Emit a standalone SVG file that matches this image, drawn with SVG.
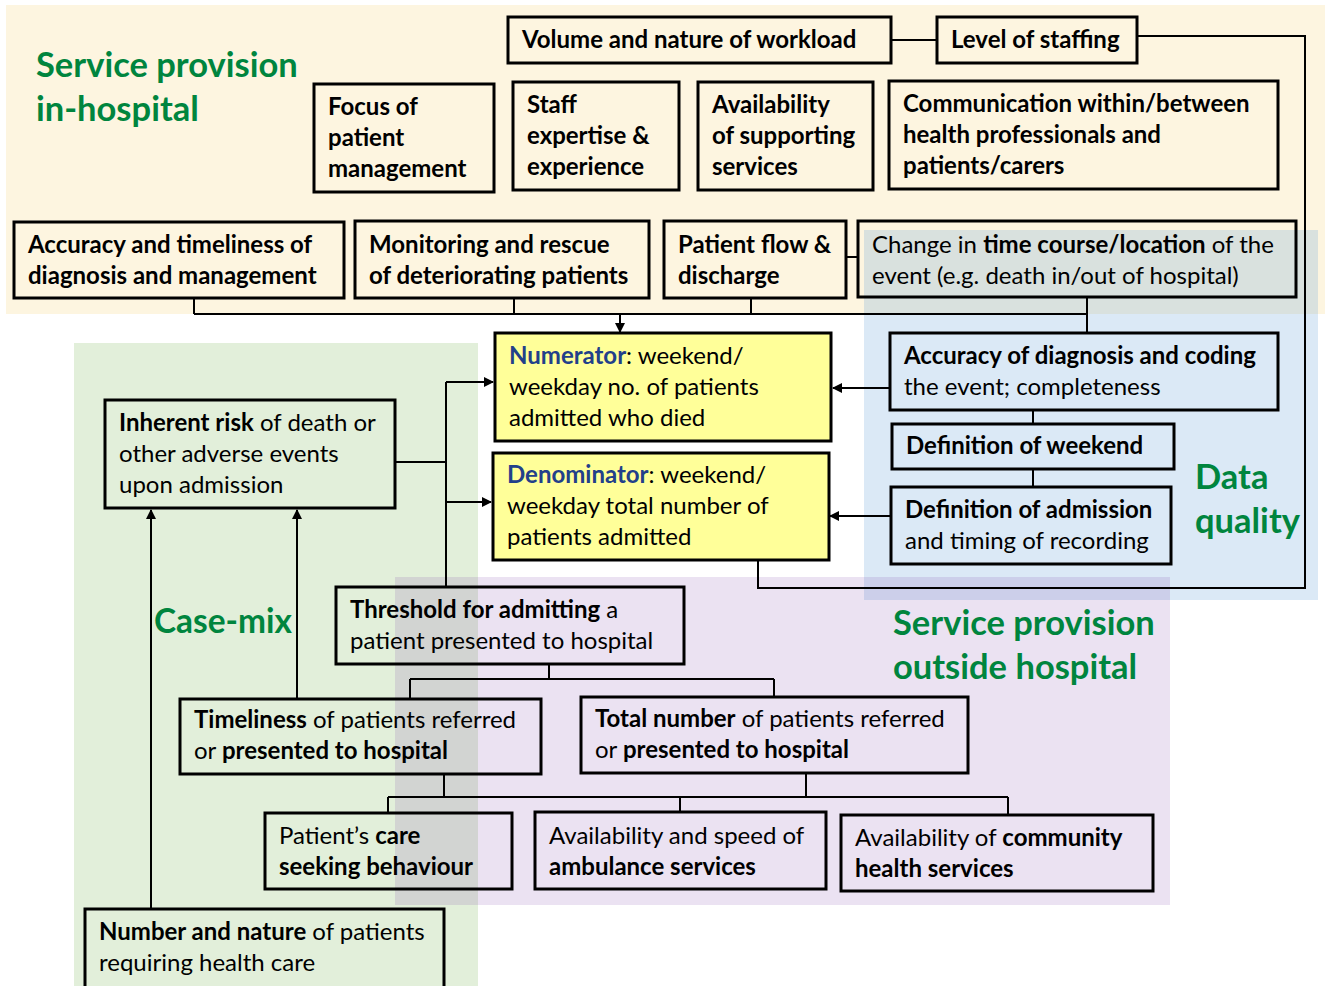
<svg xmlns="http://www.w3.org/2000/svg" width="1325" height="986" viewBox="0 0 1325 986">
<style>
.bx{fill:none;stroke:#000;stroke-width:3}
.yb{fill:#FFFF99;stroke:#000;stroke-width:3}
.t{font-family:Lato,"Liberation Sans",sans-serif;font-size:24px;fill:#000}
.b{font-weight:bold}
.nv{fill:#22408A;font-weight:bold}
.ttl{font-family:Lato,"Liberation Sans",sans-serif;font-size:34.5px;font-weight:bold;fill:#00853E}
.cn{fill:none;stroke:#000;stroke-width:2}
</style>
<defs>
<marker id="ah" markerWidth="10" markerHeight="10" refX="9" refY="5" orient="auto" markerUnits="userSpaceOnUse"><path d="M0,0 L10,5 L0,10 z" fill="#000"/></marker>
</defs>
<rect width="1325" height="986" fill="#fff"/>
<g id="backgrounds">
<rect x="6" y="5" width="1319" height="309" fill="#FDF5E0"/>
<rect x="74" y="343" width="404" height="643" fill="#E2EFDA"/>
<rect x="864" y="230" width="454" height="370" fill="#5B9BD5" fill-opacity="0.22"/>
<rect x="395" y="577" width="775" height="328" fill="#7030A0" fill-opacity="0.14"/>
</g>
<g id="labels">
<text class="ttl" x="36" y="77">Service provision</text>
<text class="ttl" x="36" y="121">in-hospital</text>
<text class="ttl" x="154" y="633" textLength="138" lengthAdjust="spacingAndGlyphs">Case-mix</text>
<text class="ttl" x="893" y="635">Service provision</text>
<text class="ttl" x="893" y="679">outside hospital</text>
<text class="ttl" x="1195" y="489">Data</text>
<text class="ttl" x="1195" y="533">quality</text>
</g>
<g id="connectors">
<path class="cn" d="M891,40 H937"/>
<path class="cn" d="M1137,36 H1305 V588 H758 V561"/>
<path class="cn" d="M194,298 V314 M514,298 V314 M751,298 V314 M1087,297 V333 M194,314 H1087"/>
<path class="cn" d="M620,314 V332" marker-end="url(#ah)"/>
<path class="cn" d="M846,257 H858"/>
<path class="cn" d="M890,388 H833" marker-end="url(#ah)"/>
<path class="cn" d="M1033,410 V424 M1033,469 V487"/>
<path class="cn" d="M890,516 H830" marker-end="url(#ah)"/>
<path class="cn" d="M396,462 H446 M446,382 V587"/>
<path class="cn" d="M446,382 H493" marker-end="url(#ah)"/>
<path class="cn" d="M446,502 H491" marker-end="url(#ah)"/>
<path class="cn" d="M151,909 V510" marker-end="url(#ah)"/>
<path class="cn" d="M297,699 V510" marker-end="url(#ah)"/>
<path class="cn" d="M549,664 V679 M410,679 H774 M410,679 V699 M774,679 V697"/>
<path class="cn" d="M444,775 V797 M806,773 V797 M388,797 H1008 M388,797 V813 M680,797 V812 M1008,797 V815"/>
</g>
<g id="n-workload"><rect class="bx" x="508" y="17" width="383" height="46"/><text class="t b" x="522" y="48">Volume and nature of workload</text></g>
<g id="n-staffing"><rect class="bx" x="937" y="17" width="200" height="46"/><text class="t b" x="951" y="48">Level of staffing</text></g>
<g id="n-focus"><rect class="bx" x="314" y="84" width="180" height="108"/><text class="t b"><tspan x="328" y="115">Focus of</tspan><tspan x="328" y="146">patient</tspan><tspan x="328" y="177">management</tspan></text></g>
<g id="n-staff"><rect class="bx" x="513" y="82" width="166" height="108"/><text class="t b"><tspan x="527" y="113">Staff</tspan><tspan x="527" y="144">expertise &amp;</tspan><tspan x="527" y="175">experience</tspan></text></g>
<g id="n-support"><rect class="bx" x="698" y="82" width="175" height="108"/><text class="t b"><tspan x="712" y="113">Availability</tspan><tspan x="712" y="144">of supporting</tspan><tspan x="712" y="175">services</tspan></text></g>
<g id="n-comm"><rect class="bx" x="889" y="81" width="389" height="108"/><text class="t b"><tspan x="903" y="112">Communication within/between</tspan><tspan x="903" y="143">health professionals and</tspan><tspan x="903" y="174">patients/carers</tspan></text></g>
<g id="n-accuracy"><rect class="bx" x="14" y="222" width="330" height="76"/><text class="t b"><tspan x="28" y="253">Accuracy and timeliness of</tspan><tspan x="28" y="284">diagnosis and management</tspan></text></g>
<g id="n-monitor"><rect class="bx" x="355" y="221" width="294" height="77"/><text class="t b"><tspan x="369" y="253">Monitoring and rescue</tspan><tspan x="369" y="284">of deteriorating patients</tspan></text></g>
<g id="n-flow"><rect class="bx" x="664" y="221" width="182" height="77"/><text class="t b"><tspan x="678" y="253">Patient flow &amp;</tspan><tspan x="678" y="284">discharge</tspan></text></g>
<g id="n-change"><rect class="bx" x="858" y="221" width="438" height="76"/><text class="t"><tspan x="872" y="253">Change in <tspan class="b">time course/location</tspan> of the</tspan><tspan x="872" y="284">event (e.g. death in/out of hospital)</tspan></text></g>
<g id="n-numerator"><rect class="yb" x="495" y="333" width="336" height="108"/><text class="t"><tspan x="509" y="364"><tspan class="nv">Numerator</tspan>: weekend/</tspan><tspan x="509" y="395">weekday no. of patients</tspan><tspan x="509" y="426">admitted who died</tspan></text></g>
<g id="n-denominator"><rect class="yb" x="493" y="453" width="336" height="107"/><text class="t"><tspan x="507" y="483"><tspan class="nv">Denominator</tspan>: weekend/</tspan><tspan x="507" y="514">weekday total number of</tspan><tspan x="507" y="545">patients admitted</tspan></text></g>
<g id="n-coding"><rect class="bx" x="890" y="333" width="388" height="77"/><text class="t"><tspan class="b" x="904" y="364">Accuracy of diagnosis and coding</tspan><tspan x="904" y="395">the event; completeness</tspan></text></g>
<g id="n-weekend"><rect class="bx" x="892" y="424" width="282" height="45"/><text class="t b" x="906" y="454">Definition of weekend</text></g>
<g id="n-admission"><rect class="bx" x="891" y="487" width="280" height="77"/><text class="t"><tspan class="b" x="905" y="518">Definition of admission</tspan><tspan x="905" y="549">and timing of recording</tspan></text></g>
<g id="n-inherent"><rect class="bx" x="105" y="400" width="290" height="108"/><text class="t"><tspan x="119" y="431"><tspan class="b">Inherent risk</tspan> of death or</tspan><tspan x="119" y="462">other adverse events</tspan><tspan x="119" y="493">upon admission</tspan></text></g>
<g id="n-threshold"><rect class="bx" x="336" y="587" width="348" height="77"/><text class="t"><tspan x="350" y="618"><tspan class="b">Threshold for admitting</tspan> a</tspan><tspan x="350" y="649">patient presented to hospital</tspan></text></g>
<g id="n-timeliness"><rect class="bx" x="180" y="699" width="361" height="75"/><text class="t"><tspan x="194" y="728"><tspan class="b">Timeliness</tspan> of patients referred</tspan><tspan x="194" y="759">or <tspan class="b">presented to hospital</tspan></tspan></text></g>
<g id="n-total"><rect class="bx" x="581" y="697" width="387" height="76"/><text class="t"><tspan x="595" y="727"><tspan class="b">Total number</tspan> of patients referred</tspan><tspan x="595" y="758">or <tspan class="b">presented to hospital</tspan></tspan></text></g>
<g id="n-careseek"><rect class="bx" x="265" y="813" width="247" height="76"/><text class="t"><tspan x="279" y="844">Patient’s <tspan class="b">care</tspan></tspan><tspan class="b" x="279" y="875">seeking behaviour</tspan></text></g>
<g id="n-ambulance"><rect class="bx" x="535" y="812" width="291" height="77"/><text class="t"><tspan x="549" y="844">Availability and speed of</tspan><tspan class="b" x="549" y="875">ambulance services</tspan></text></g>
<g id="n-community"><rect class="bx" x="841" y="815" width="312" height="76"/><text class="t"><tspan x="855" y="846">Availability of <tspan class="b">community</tspan></tspan><tspan class="b" x="855" y="877">health services</tspan></text></g>
<g id="n-number"><rect class="bx" x="85" y="909" width="359" height="80"/><text class="t"><tspan x="99" y="940"><tspan class="b">Number and nature</tspan> of patients</tspan><tspan x="99" y="971">requiring health care</tspan></text></g>
</svg>
